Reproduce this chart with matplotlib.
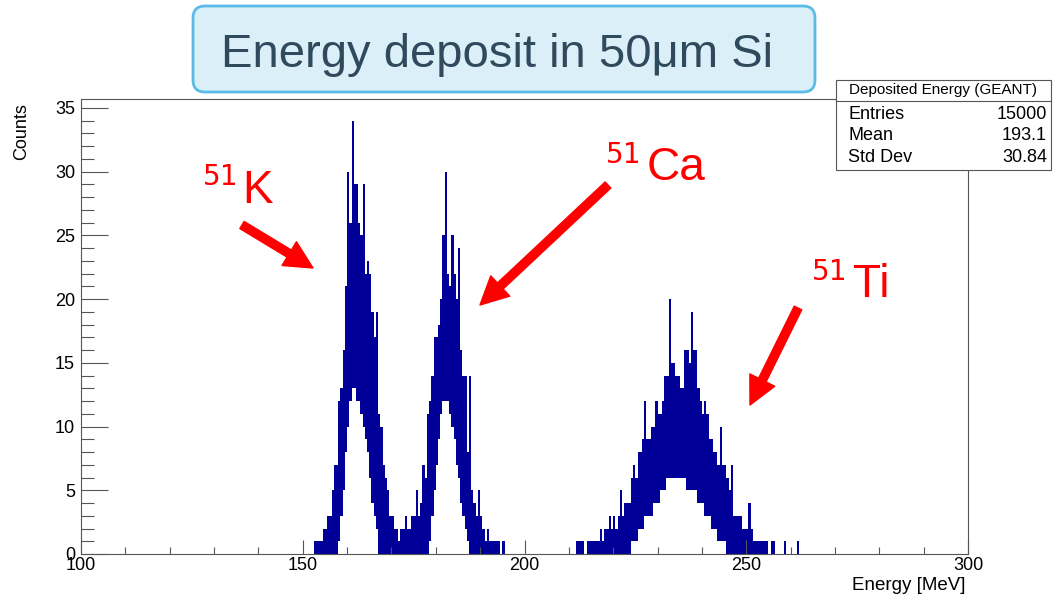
import numpy as np
import matplotlib
matplotlib.use('Agg')
import matplotlib.pyplot as plt
from matplotlib.ticker import MultipleLocator
from matplotlib.patches import FancyBboxPatch, Rectangle, FancyArrowPatch
from matplotlib.lines import Line2D
from matplotlib.transforms import IdentityTransform

plt.rcParams['font.family'] = ['Liberation Sans', 'DejaVu Sans']

# deposited energy histogram, 0.5 MeV channels
# hi = highest count in the channel, lo = lowest count in the channel
bin_width = 0.5

k_ca_start = 152.0
k_ca_hi = [0, 1, 1, 1, 1, 2, 2, 3, 3, 5,
           7, 7, 12, 13, 16, 21, 30, 26, 34, 29,
           29, 26, 25, 29, 22, 23, 22, 19, 17, 19,
           11, 10, 7, 6, 5, 3, 3, 2, 2, 1,
           2, 2, 3, 2, 2, 3, 3, 5, 3, 4,
           7, 6, 11, 12, 14, 17, 17, 18, 20, 25,
           30, 22, 21, 25, 22, 20, 24, 16, 14, 14,
           8, 14, 5, 4, 3, 5, 3, 2, 1, 2,
           1, 1, 1, 1, 1, 0, 1, 0]
k_ca_lo = [0, 0, 0, 0, 0, 0, 0, 0, 0, 0,
           0, 0, 1, 3, 5, 8, 10, 12, 13, 13,
           12, 12, 11, 10, 9, 8, 6, 4, 3, 2,
           0, 0, 0, 0, 0, 0, 0, 0, 0, 0,
           0, 0, 0, 0, 0, 0, 0, 0, 0, 0,
           0, 0, 0, 1, 3, 5, 7, 9, 11, 12,
           12, 12, 11, 10, 9, 7, 6, 4, 3, 2,
           1, 0, 0, 0, 0, 0, 0, 0, 0, 0,
           0, 0, 0, 0, 0, 0, 0, 0]

ti_start = 210.0
ti_hi = [0, 0, 0, 1, 1, 1, 1, 0, 1, 1,
         1, 1, 1, 1, 2, 1, 2, 2, 3, 2,
         3, 2, 3, 5, 3, 4, 4, 4, 6, 7,
         6, 8, 8, 9, 12, 9, 9, 10, 10, 12,
         11, 11, 12, 14, 14, 20, 15, 15, 14, 14,
         13, 13, 16, 16, 15, 19, 16, 16, 13, 12,
         11, 12, 11, 9, 9, 8, 8, 7, 10, 7,
         7, 6, 5, 7, 3, 3, 3, 3, 2, 2,
         2, 4, 2, 1, 1, 1, 1, 1, 1, 1,
         0, 1, 1, 0, 0, 0, 0, 1, 0, 0,
         0, 0, 0, 1]
ti_lo = [0, 0, 0, 0, 0, 0, 0, 0, 0, 0,
         0, 0, 0, 0, 0, 0, 0, 0, 0, 0,
         0, 0, 0, 0, 0, 0, 0, 0, 1, 1,
         1, 2, 2, 2, 3, 3, 3, 3, 4, 4,
         4, 5, 5, 5, 6, 6, 6, 6, 6, 6,
         6, 6, 6, 5, 5, 5, 5, 5, 4, 4,
         4, 3, 3, 3, 2, 2, 2, 1, 1, 1,
         1, 0, 0, 0, 0, 0, 0, 0, 0, 0,
         0, 0, 0, 0, 0, 0, 0, 0, 0, 0,
         0, 0, 0, 0, 0, 0, 0, 0, 0, 0,
         0, 0, 0, 0]

stats = [('Entries', '15000'), ('Mean', '193.1'), ('Std Dev', '30.84')]

W, H = 1053, 597
fig = plt.figure(figsize=(W / 100, H / 100), dpi=100)
fig.set_facecolor('white')
ax = fig.add_axes([81 / W, (H - 554) / H, 887 / W, 455 / H])

def fx(x):
    return x / W

def fy(y):
    return (H - y) / H

hist_color = '#000099'
for start, hi, lo in [(k_ca_start, k_ca_hi, k_ca_lo), (ti_start, ti_hi, ti_lo)]:
    edges = start + bin_width * np.arange(len(hi) + 1)
    ax.fill_between(edges, np.append(lo, lo[-1]), np.append(hi, hi[-1]),
                    step='post', color=hist_color, linewidth=0)

ax.set_xlim(100, 300)
ax.set_ylim(0, 35.7)
ax.xaxis.set_major_locator(MultipleLocator(50))
ax.xaxis.set_minor_locator(MultipleLocator(10))
ax.yaxis.set_major_locator(MultipleLocator(5))
ax.yaxis.set_minor_locator(MultipleLocator(1))
ax.tick_params(axis='both', which='both', direction='in', top=False, right=False,
               labelsize=13, color='#555555', width=0.8)
ax.tick_params(axis='x', which='major', length=10, pad=2)
ax.tick_params(axis='x', which='minor', length=5)
ax.tick_params(axis='y', which='major', length=19.4, pad=4.3)
ax.tick_params(axis='y', which='minor', length=9.7)
for s in ax.spines.values():
    s.set_color('#555555')
    s.set_linewidth(0.8)

fig.text(fx(22), fy(103), 'Counts', rotation=90, ha='center', va='top', fontsize=13)
fig.text(fx(966), fy(585), 'Energy [MeV]', ha='right', va='center', fontsize=13.5)

# slide title box
title_box = FancyBboxPatch((193, H - 92), 622, 86, boxstyle='round,pad=0,rounding_size=12',
                           transform=IdentityTransform(), fc='#dbeff8', ec='#5bbbe8', lw=2,
                           zorder=2)
fig.add_artist(title_box)
fig.text(fx(497), fy(67), 'Energy deposit in 50μm Si', ha='center', va='baseline',
         fontsize=34, color='#2f4a5c', zorder=3)

# stats box
stat_box = Rectangle((836, H - 170), 215, 90, transform=IdentityTransform(),
                     fc='white', ec='#555555', lw=0.8, zorder=2)
fig.add_artist(stat_box)
fig.add_artist(Line2D([836, 1051], [H - 101, H - 101], transform=IdentityTransform(),
                      color='#555555', lw=0.8, zorder=3))
fig.text(fx(943), fy(90), 'Deposited Energy (GEANT)', ha='center', va='center',
         fontsize=11, zorder=4)
for i, (name, val) in enumerate(stats):
    y = 114 + 22 * i
    fig.text(fx(848), fy(y), name, ha='left', va='center', fontsize=13, zorder=4)
    fig.text(fx(1047), fy(y), val, ha='right', va='center', fontsize=13, zorder=4)

# isotope labels with arrows
labels = [('K', (203, 185), (242, 203), (242, 225), (313, 268)),
          ('Ca', (606, 163), (647, 180), (608, 185), (480, 305)),
          ('Ti', (812, 280), (853, 297), (798, 308), (750, 405))]
for elem, sup_pos, el_pos, tail, tip in labels:
    fig.text(fx(sup_pos[0]), fy(sup_pos[1]), '51', ha='left', va='baseline',
             fontsize=21, color='red', family='DejaVu Sans Mono', zorder=4)
    fig.text(fx(el_pos[0]), fy(el_pos[1]), elem, ha='left', va='baseline',
             fontsize=33, color='red', zorder=4)
    arr = FancyArrowPatch((tail[0], H - tail[1]), (tip[0], H - tip[1]),
                          arrowstyle='simple,head_length=1,head_width=1,tail_width=0.3',
                          mutation_scale=20, color='red', shrinkA=0, shrinkB=0,
                          transform=IdentityTransform(), zorder=4)
    fig.add_artist(arr)

fig.savefig('out.png', dpi=100)
